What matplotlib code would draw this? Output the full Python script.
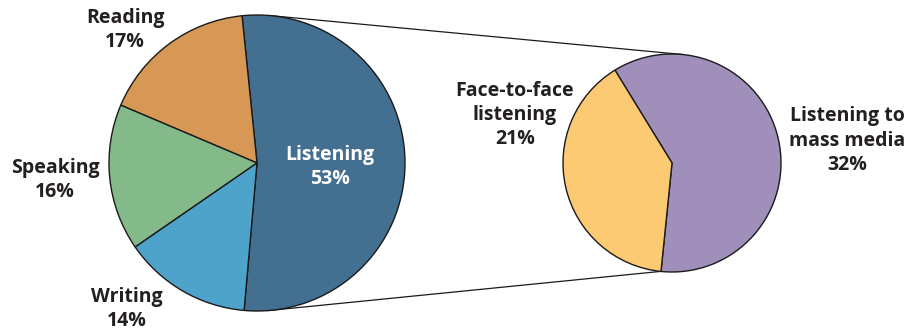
import numpy as np
import matplotlib.pyplot as plt

# main pie: share of communication time
main_labels = ['Listening', 'Reading', 'Speaking', 'Writing']
main_values = [53, 17, 16, 14]
main_colors = ['#436f90', '#d79755', '#84b98a', '#4ea3cb']

# breakdown of listening
sub_labels = ['Listening to\nmass media', 'Face-to-face\nlistening']
sub_values = [32, 21]
sub_colors = ['#a08ebb', '#fdca74']

plt.rcParams['font.family'] = ['Open Sans', 'DejaVu Sans']

fig = plt.figure(figsize=(9.09, 3.34), dpi=100)
ax = fig.add_axes([0, 0, 1, 1])

c1, r1 = (257, 171), 148
c2, r2 = (672, 171), 109
start1 = -95
start2 = -95.8

wp = dict(edgecolor='#1a1a1a', linewidth=1.0)
ax.pie(main_values, colors=main_colors, startangle=start1, counterclock=True,
       center=c1, radius=r1, wedgeprops=wp, frame=True)
ax.pie(sub_values, colors=sub_colors, startangle=start2, counterclock=True,
       center=c2, radius=r2, wedgeprops=wp, frame=True)
ax.set_xlim(0, 909)
ax.set_ylim(0, 334)
ax.set_aspect('equal')
ax.axis('off')

# connector lines between the two pies
def pt(c, r, a):
    return c[0] + r * np.cos(np.radians(a)), c[1] + r * np.sin(np.radians(a))

for a1, a2 in [(85, 84), (-85.8, -96)]:
    p1 = pt(c1, r1, a1)
    p2 = pt(c2, r2, a2)
    ax.plot([p1[0], p2[0]], [p1[1], p2[1]], color='#1a1a1a', lw=0.9, zorder=0)

fs = 14
tk = dict(ha='center', va='center', fontsize=fs, fontweight='bold',
          color='#231f20', linespacing=1.3)
ax.text(125, 304, 'Reading\n%d%%' % main_values[1], **tk)
ax.text(55, 154, 'Speaking\n%d%%' % main_values[2], **tk)
ax.text(127, 25, 'Writing\n%d%%' % main_values[3], **tk)
ax.text(330, 167, 'Listening\n%d%%' % main_values[0],
        **{**tk, 'color': 'white'})
ax.text(515, 219, '%s\n%d%%' % (sub_labels[1], sub_values[1]), **tk)
ax.text(847, 193, '%s\n%d%%' % (sub_labels[0], sub_values[0]), **tk)

plt.savefig('out.png', dpi=100)
